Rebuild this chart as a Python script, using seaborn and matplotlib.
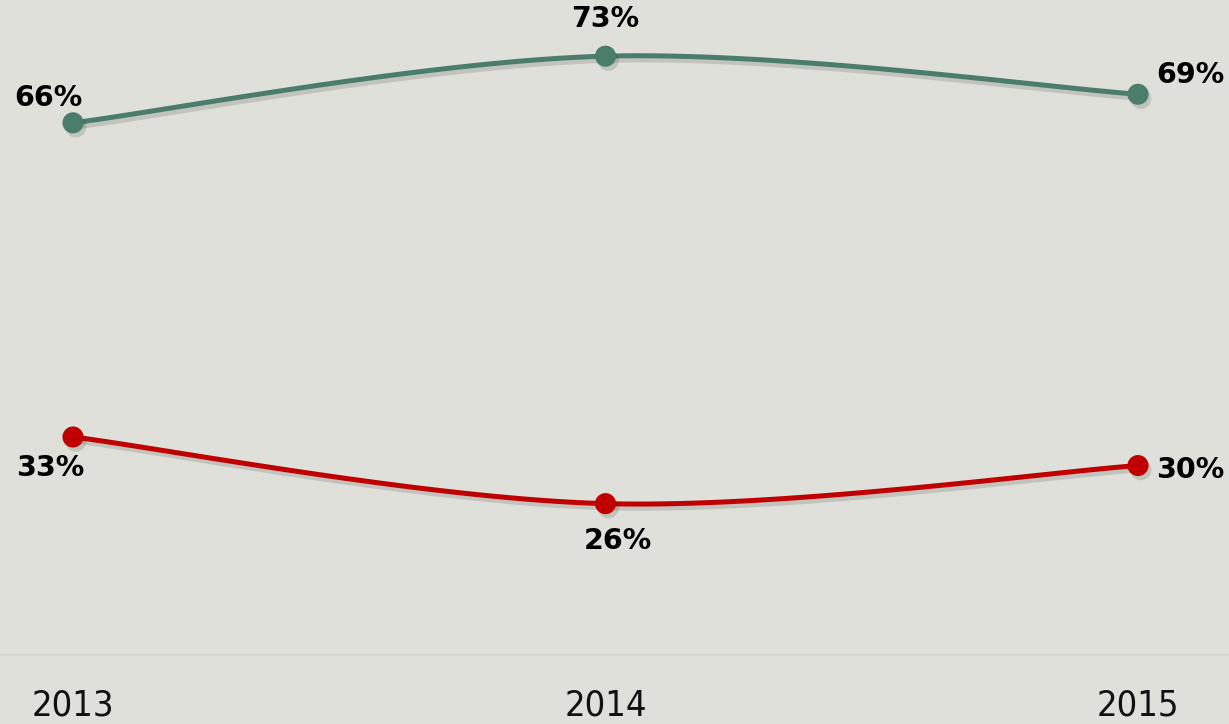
import numpy as np
import pandas as pd
import matplotlib
matplotlib.use("Agg")
import matplotlib.pyplot as plt
import matplotlib.patheffects as pe
import seaborn as sns

years = ["2013", "2014", "2015"]
series_a = [66, 73, 69]
series_b = [33, 26, 30]
labels_a = ["66%", "73%", "69%"]
labels_b = ["33%", "26%", "30%"]

GREEN = "#4a7d6b"
RED = "#c00000"
BG = "#dfe0da"

sns.set_theme(style="white")
plt.rcParams["font.family"] = ["DejaVu Sans"]

fig = plt.figure(figsize=(12.29, 7.24), dpi=100, facecolor=BG)
ax = fig.add_axes([0, 0.0953, 1, 0.9047])
ax.set_facecolor(BG)

x = np.arange(len(years))


def smooth(xs, ys, n=60):
    xs = np.asarray(xs, float)
    ys = np.asarray(ys, float)
    px, py = [], []
    m = len(xs)
    for i in range(m - 1):
        p0 = (xs[max(i - 1, 0)], ys[max(i - 1, 0)])
        p1 = (xs[i], ys[i])
        p2 = (xs[i + 1], ys[i + 1])
        p3 = (xs[min(i + 2, m - 1)], ys[min(i + 2, m - 1)])
        c1 = (p1[0] + (p2[0] - p0[0]) / 6, p1[1] + (p2[1] - p0[1]) / 6)
        c2 = (p2[0] - (p3[0] - p1[0]) / 6, p2[1] - (p3[1] - p1[1]) / 6)
        t = np.linspace(0, 1, n)
        bx = (1 - t) ** 3 * p1[0] + 3 * (1 - t) ** 2 * t * c1[0] + 3 * (1 - t) * t ** 2 * c2[0] + t ** 3 * p2[0]
        by = (1 - t) ** 3 * p1[1] + 3 * (1 - t) ** 2 * t * c1[1] + 3 * (1 - t) * t ** 2 * c2[1] + t ** 3 * p2[1]
        px.extend(bx)
        py.extend(by)
    return np.array(px), np.array(py)


shadow = [pe.SimpleLineShadow(offset=(2, -3), shadow_color="black", alpha=0.13), pe.Normal()]

for vals, col in [(series_a, GREEN), (series_b, RED)]:
    sx, sy = smooth(x, vals)
    ax.plot(sx, sy, color=col, lw=3.6, solid_capstyle="round", path_effects=shadow, zorder=2)
    df = pd.DataFrame({"x": x, "v": vals})
    sns.scatterplot(data=df, x="x", y="v", ax=ax, color=col, s=230, edgecolor="none",
                    zorder=3, legend=False)

for c in ax.collections:
    c.set_path_effects([pe.SimplePatchShadow(offset=(2, -3), shadow_rgbFace="black", alpha=0.13),
                        pe.Normal()])

offs_a = [(-25, 25), (0, 37), (52, 19)]
offs_b = [(-23, -31), (12, -37), (52, -4)]
for vals, labs, offs in [(series_a, labels_a, offs_a), (series_b, labels_b, offs_b)]:
    for xi, v, lab, (dx, dy) in zip(x, vals, labs, offs):
        ax.annotate(lab, (xi, v), xytext=(dx * 0.72, dy * 0.72), textcoords="offset points",
                    ha="center", va="center", fontsize=20.5, fontweight="bold", color="black")

ax.set_xlim(-73 / 532.5, (1229 - 73) / 532.5)
ax.set_ylim(10.1, 78.9)
ax.set_xticks(x)
ax.set_xticklabels(years, fontsize=26, color="#111111", fontstretch="condensed")
ax.set_yticks([])
ax.tick_params(axis="x", length=0, pad=24)
ax.set_xlabel("")
ax.set_ylabel("")
for s in ["top", "left", "right"]:
    ax.spines[s].set_visible(False)
ax.spines["bottom"].set_color("#d4d4cf")
ax.spines["bottom"].set_linewidth(1.5)

fig.savefig("out.png", dpi=100, facecolor=BG)
